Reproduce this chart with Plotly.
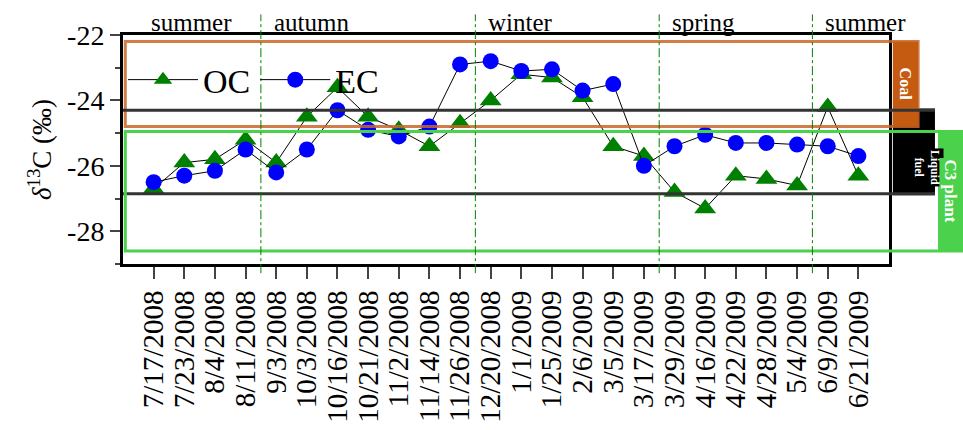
import plotly.graph_objects as go

dates = ["7/17/2008","7/23/2008","8/4/2008","8/11/2008","9/3/2008","10/3/2008","10/16/2008","10/21/2008",
         "11/2/2008","11/14/2008","11/26/2008","12/20/2008","1/1/2009","1/25/2009","2/6/2009","3/5/2009",
         "3/17/2009","3/29/2009","4/16/2009","4/22/2009","4/28/2009","5/4/2009","6/9/2009","6/21/2009"]
oc = [-26.7,-25.9,-25.8,-25.2,-25.9,-24.5,-23.6,-24.5,-24.9,-25.4,-24.7,-24.0,-23.2,-23.3,-23.9,-25.4,
      -25.7,-26.8,-27.3,-26.3,-26.4,-26.6,-24.2,-26.3]
ec = [-26.5,-26.3,-26.15,-25.5,-26.2,-25.5,-24.3,-24.9,-25.1,-24.8,-22.9,-22.8,-23.1,-23.05,-23.7,-23.5,
      -26.0,-25.4,-25.05,-25.3,-25.3,-25.35,-25.4,-25.7]
seasons = ["summer","autumn","winter","spring","summer"]
season_bounds = [3.5, 10.5, 16.5, 21.5]
season_label_x = [0, 4, 11, 17, 22]
ytick_vals = [-22, -24, -26, -28]
ytick_text = ["-22", "-24", "-26", "-28"]
coal = (-22.2, -24.8)
liquid = (-24.3, -26.85)
c3 = (-24.95, -28.6)

F = "Liberation Serif"
idx = list(range(len(dates)))
fig = go.Figure()
fig.add_trace(go.Scatter(x=idx, y=oc, name="OC", mode="lines+markers",
    line=dict(color="black", width=1), marker=dict(symbol="triangle-up", size=19, color="green")))
fig.add_trace(go.Scatter(x=idx, y=ec, name="EC", mode="lines+markers",
    line=dict(color="black", width=1), marker=dict(symbol="circle", size=16, color="blue")))

shapes = []
orange = "#c8672a"
green = "#4cd14c"
shapes.append(dict(type="rect", xref="paper", yref="y", x0=0.003, x1=1.038, y0=coal[0], y1=coal[1],
                   line=dict(color=orange, width=3), opacity=0.85))
shapes.append(dict(type="rect", xref="paper", yref="y", x0=1.005, x1=1.038, y0=coal[0], y1=coal[1],
                   fillcolor="#c55a11", line=dict(width=0)))
for v in liquid:
    shapes.append(dict(type="line", xref="paper", yref="y", x0=0, x1=1.06, y0=v, y1=v,
                       line=dict(color="#333", width=3)))
shapes.append(dict(type="rect", xref="paper", yref="y", x0=1.005, x1=1.06, y0=liquid[0]+0.05, y1=liquid[1]-0.05,
                   fillcolor="black", line=dict(width=0), layer="below"))
shapes.append(dict(type="rect", xref="paper", yref="y", x0=0.003, x1=1.097, y0=c3[0], y1=c3[1],
                   line=dict(color=green, width=3)))
shapes.append(dict(type="rect", xref="paper", yref="y", x0=1.064, x1=1.097, y0=c3[0], y1=c3[1],
                   fillcolor=green, line=dict(width=0)))
for b in season_bounds:
    shapes.append(dict(type="line", xref="x", yref="paper", x0=b, x1=b, y0=-0.04, y1=1.09,
                       line=dict(color="green", width=1, dash="dashdot")))

ann = []
for s, xx in zip(seasons, season_label_x):
    ann.append(dict(x=xx - 0.15, y=0.985, xref="x", yref="paper", text=s, showarrow=False,
                    xanchor="left", yanchor="bottom", font=dict(family=F, size=25, color="black")))
side = [(1.0215, (coal[0]+coal[1])/2, "<b>Coal</b>", 16, "#c55a11"),
        (1.049, -26.05, "<b>Liquid<br>fuel</b>", 12, "black"),
        (1.0805, (c3[0]+c3[1])/2, "<b>C3 plant</b>", 17, green)]
for xx, yy, t, sz, bg in side:
    ann.append(dict(x=xx, y=yy, xref="paper", yref="y", text=t, textangle=90, showarrow=False,
                    xanchor="center", yanchor="middle", bgcolor=bg,
                    font=dict(family=F, size=sz, color="white")))

fig.update_layout(
    width=963, height=430, margin=dict(l=123, r=74, t=35, b=166, autoexpand=False),
    paper_bgcolor="white", plot_bgcolor="white", shapes=shapes, annotations=ann,
    font=dict(family=F, color="black"),
    legend=dict(x=0.0, y=0.93, xanchor="left", yanchor="top", orientation="h",
                bgcolor="rgba(0,0,0,0)", font=dict(family=F, size=34), itemwidth=70),
    xaxis=dict(range=[-1, 24], tickmode="array", tickvals=idx, ticktext=dates, tickangle=-90,
               ticks="outside", ticklen=12, tickwidth=2, showline=True, linewidth=3, linecolor="black",
               mirror=True, showgrid=False, zeroline=False, automargin=False,
               tickfont=dict(family=F, size=29)),
    yaxis=dict(range=[-29, -22], tickmode="array", tickvals=ytick_vals, ticktext=ytick_text,
               ticks="outside", ticklen=10, tickwidth=2,
               showline=True, linewidth=3, linecolor="black", mirror=True, showgrid=False, zeroline=False,
               automargin=False, tickfont=dict(family=F, size=28),
               minor=dict(tickvals=[-23,-25,-27,-29], ticks="outside", ticklen=5, tickwidth=2),
               title=dict(text="<i>δ</i><sup>13</sup>C (‰)", font=dict(family=F, size=27), standoff=8)),
)
fig.write_html("out.html", config={"displayModeBar": False},
               post_script="document.body.style.margin='0';document.body.style.overflow='hidden';")
